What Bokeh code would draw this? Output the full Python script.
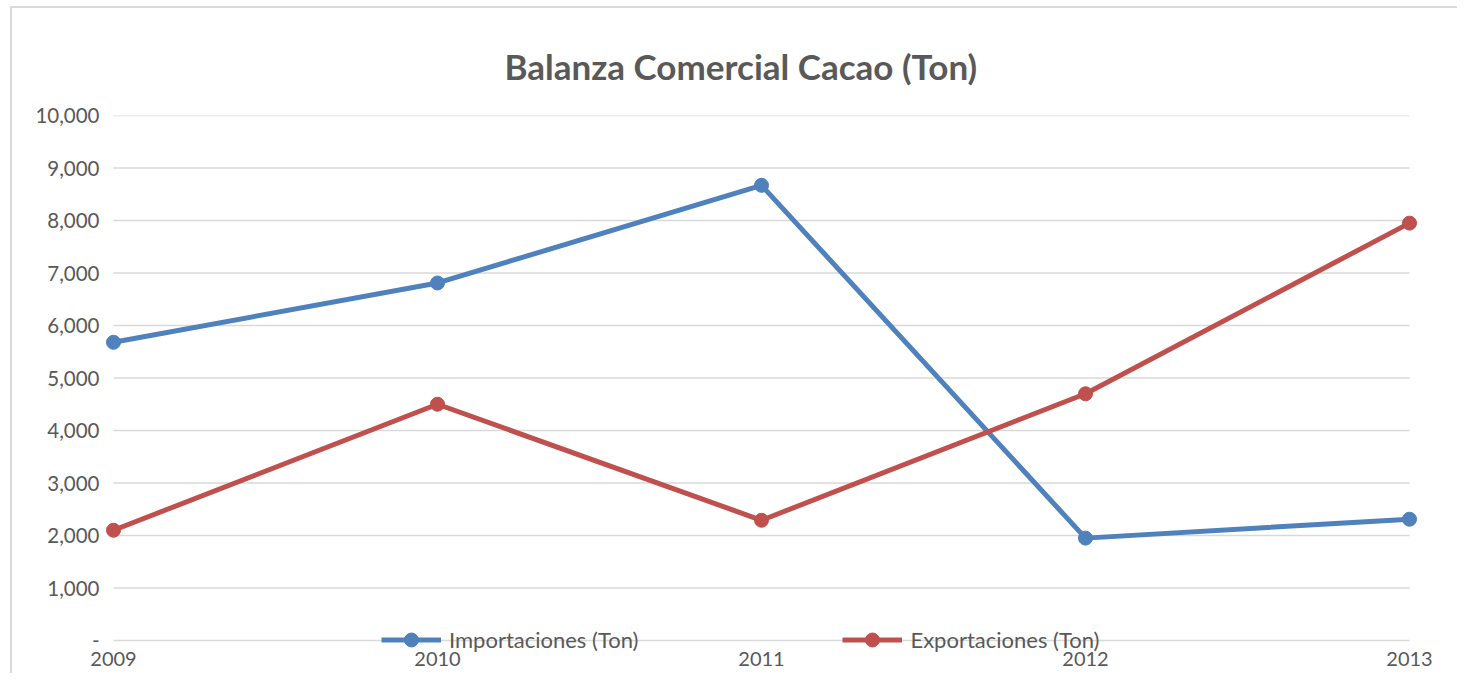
from bokeh.plotting import figure
from bokeh.models import Range1d, FixedTicker, Legend, LegendItem, CustomJSTickFormatter
from bokeh.embed import file_html
from bokeh.resources import INLINE

years = ["2009", "2010", "2011", "2012", "2013"]
importaciones = [5680, 6810, 8670, 1950, 2310]
exportaciones = [2100, 4500, 2290, 4700, 7950]
y_ticks = [0, 1000, 2000, 3000, 4000, 5000, 6000, 7000, 8000, 9000, 10000]

BLUE = "#4F81BD"
RED = "#C0504D"
TXT = "#595959"
GRID = "#D9D9D9"
FONT = "Lato"

x = list(range(len(years)))

# pixel scales of the plot area (1296 px for the 4 year steps, 52.5 px per 1,000)
px_per_x = 1296 / (len(years) - 1)
px_per_y = 0.0525
pad_x = 24 / px_per_x
y_bottom = -31 / px_per_y

p = figure(width=1457, height=673, output_backend="svg", toolbar_location=None,
           x_range=Range1d(-pad_x, len(years) - 1 + pad_x), y_range=Range1d(y_bottom, 10000),
           min_border_left=89, min_border_right=24, min_border_top=115, min_border_bottom=2)

p.title.text = "Balanza Comercial Cacao (Ton)"
p.title.align = "left"
p.title.vertical_align = "top"
p.title.text_font = FONT
p.title.text_font_size = "35px"
p.title.text_font_style = "bold"
p.title.text_color = TXT
p.title.offset = 415
p.title.standoff = 54

p.border_fill_color = None
p.background_fill_color = None
p.outline_line_color = None
p.styles = {"box-shadow": "inset 10px 6px 0 0 white, inset 12px 8px 0 0 #D9D9D9"}

p.xaxis.fixed_location = 0
p.xaxis.ticker = FixedTicker(ticks=x)
p.xaxis.major_label_overrides = {i: y for i, y in enumerate(years)}
p.xaxis.axis_line_color = None
p.xaxis.major_tick_line_color = None
p.xaxis.minor_tick_line_color = None
p.xaxis.major_label_text_font = FONT
p.xaxis.major_label_text_font_size = "20px"
p.xaxis.major_label_text_color = TXT
p.xaxis.major_label_standoff = 5

p.yaxis.ticker = FixedTicker(ticks=y_ticks)
p.yaxis.formatter = CustomJSTickFormatter(code="return tick == 0 ? '-' : tick.toLocaleString('en-US');")
p.yaxis.axis_line_color = None
p.yaxis.major_tick_line_color = None
p.yaxis.minor_tick_line_color = None
p.yaxis.major_label_text_font = FONT
p.yaxis.major_label_text_font_size = "20.5px"
p.yaxis.major_label_text_color = TXT
p.yaxis.major_label_standoff = -16

p.xgrid.grid_line_color = None
p.ygrid.grid_line_color = None
# horizontal gridlines spanning exactly the first to the last year
p.segment(x0=[x[0]] * len(y_ticks), x1=[x[-1]] * len(y_ticks), y0=y_ticks, y1=y_ticks,
          line_color=GRID, line_width=1.5)

l1 = p.line(x, importaciones, line_color=BLUE, line_width=5)
s1 = p.scatter(x, importaciones, size=14, fill_color=BLUE, line_color=BLUE)
l2 = p.line(x, exportaciones, line_color=RED, line_width=5)
s2 = p.scatter(x, exportaciones, size=14, fill_color=RED, line_color=RED)

legend = Legend(items=[LegendItem(label="Importaciones (Ton)", renderers=[l1, s1]),
                       LegendItem(label="Exportaciones (Ton)", renderers=[l2, s2])],
                orientation="horizontal", location=(292, 14),
                glyph_width=60, glyph_height=35, label_height=22,
                label_standoff=8, spacing=204, padding=0, margin=0,
                label_text_font=FONT, label_text_font_size="22px", label_text_color=TXT,
                background_fill_alpha=0, border_line_alpha=0)
p.add_layout(legend, "center")

open("out.html", "w").write(file_html(p, INLINE))
